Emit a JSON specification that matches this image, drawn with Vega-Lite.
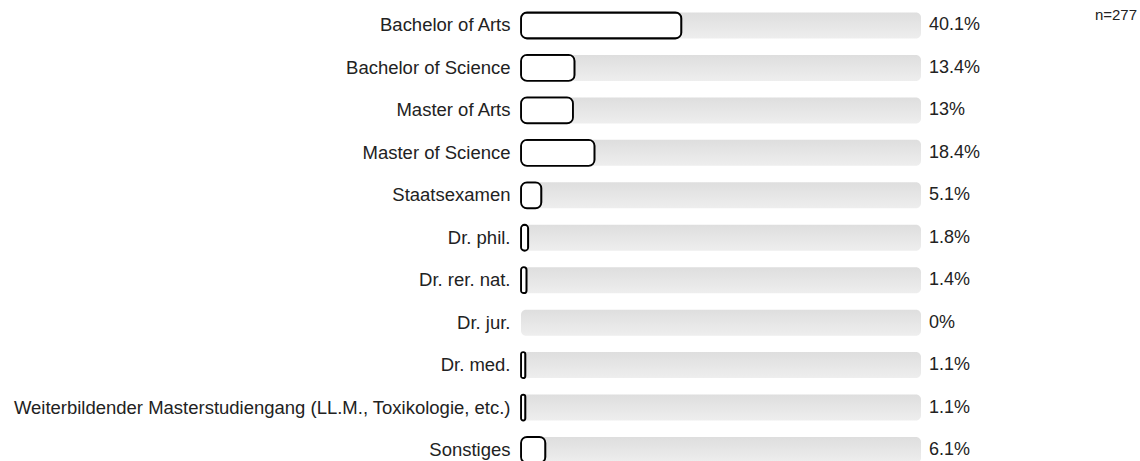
{
  "$schema": "https://vega.github.io/schema/vega-lite/v6.json",
  "autosize": {"type": "none"},
  "padding": {"left": 521, "top": 4, "right": 219, "bottom": 0},
  "width": 400,
  "height": {"step": 42.45},
  "background": "white",
  "title": {"text": "n=277", "anchor": "end", "frame": "group", "dx": 216, "dy": 23, "fontSize": 15, "fontWeight": "normal", "color": "#222", "font": "Liberation Sans"},
  "config": {"view": {"stroke": null}, "font": "Liberation Sans"},
  "data": {"values": [
    {"degree": "Bachelor of Arts", "share": 0.401},
    {"degree": "Bachelor of Science", "share": 0.134},
    {"degree": "Master of Arts", "share": 0.13},
    {"degree": "Master of Science", "share": 0.184},
    {"degree": "Staatsexamen", "share": 0.051},
    {"degree": "Dr. phil.", "share": 0.018},
    {"degree": "Dr. rer. nat.", "share": 0.014},
    {"degree": "Dr. jur.", "share": 0},
    {"degree": "Dr. med.", "share": 0.011},
    {"degree": "Weiterbildender Masterstudiengang (LL.M., Toxikologie, etc.)", "share": 0.011},
    {"degree": "Sonstiges", "share": 0.061}
  ]},
  "encoding": {
    "y": {"field": "degree", "type": "nominal", "sort": null,
      "scale": {"paddingInner": 0.3875, "paddingOuter": 0.2},
      "axis": {"title": null, "domain": false, "ticks": false, "labelFontSize": 18.5, "labelPadding": 11, "labelLimit": 0, "labelColor": "#222", "labelFont": "Liberation Sans", "labelOffset": 0}}
  },
  "layer": [
    {
      "mark": {"type": "bar", "cornerRadius": 5,
        "color": {"gradient": "linear", "x1": 0, "y1": 0, "x2": 0, "y2": 1,
          "stops": [{"offset": 0, "color": "#dedede"}, {"offset": 1, "color": "#eeeeee"}]}},
      "encoding": {
        "x": {"datum": 0, "type": "quantitative", "scale": {"domain": [0, 1]}, "axis": null},
        "x2": {"datum": 1}
      }
    },
    {
      "transform": [{"filter": "datum.share > 0"}],
      "mark": {"type": "bar", "fill": "white", "stroke": "black", "strokeWidth": 1.8, "cornerRadius": 6},
      "encoding": {
        "x": {"field": "share", "type": "quantitative", "scale": {"domain": [0, 1]}, "axis": null}
      }
    },
    {
      "mark": {"type": "text", "align": "left", "baseline": "middle", "dx": 8, "fontSize": 18, "color": "#222", "font": "Liberation Sans"},
      "encoding": {
        "x": {"datum": 1, "type": "quantitative", "scale": {"domain": [0, 1]}, "axis": null},
        "text": {"field": "share", "type": "quantitative", "format": ".1~%"}
      }
    }
  ]
}
